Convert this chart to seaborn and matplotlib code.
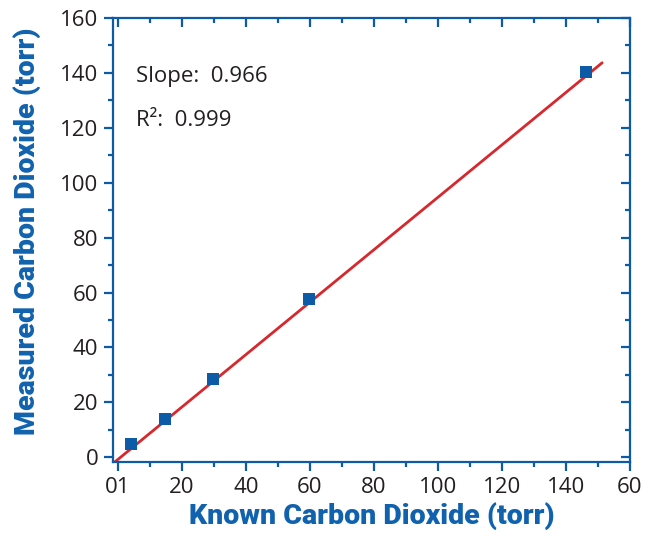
import numpy as np
import pandas as pd
import matplotlib
matplotlib.use("Agg")
import matplotlib.pyplot as plt
import seaborn as sns
from matplotlib.ticker import MultipleLocator, FixedLocator

# ---- data ----
known = [4.2, 14.6, 29.7, 59.7, 146.4]
measured = [4.7, 14.0, 28.4, 57.6, 140.3]
fit_slope = 0.955
fit_intercept = -0.8
fit_x_range = [-1.0, 151.3]
x_tick_values = [0, 20, 40, 60, 80, 100, 120, 140, 160]
x_tick_labels = ["01", "20", "40", "60", "80", "100", "120", "140", "60"]
y_tick_values = [0, 20, 40, 60, 80, 100, 120, 140, 160]
slope_text = "Slope:  0.966"
r2_text = "R\u00b2:  0.999"
x_label = "Known Carbon Dioxide (torr)"
y_label = "Measured Carbon Dioxide (torr)"

sns.set_style("ticks")
plt.rcParams['font.family'] = ['Open Sans', 'DejaVu Sans']

BLUE = "#0d5aa7"
LABEL_BLUE = "#1162ae"
RED = "#d7282e"
TXT = "#231f20"

df = pd.DataFrame({"known": known, "measured": measured})
fit_df = pd.DataFrame({"x": fit_x_range,
                       "y": [fit_slope * v + fit_intercept for v in fit_x_range]})

fig = plt.figure(figsize=(6.48, 5.33), dpi=100)
ax = fig.add_axes([113/648, 1-462/533, (630-113)/648, (462-18)/533])

sns.lineplot(data=fit_df, x="x", y="y", ax=ax, color=RED, lw=2.0, zorder=2)
sns.scatterplot(data=df, x="known", y="measured", ax=ax, marker="s", s=66,
                color=BLUE, edgecolor=BLUE, linewidth=0, zorder=3)

ax.set_xlim(-1.5, 160)
ax.set_ylim(-1.7, 160)

ax.xaxis.set_major_locator(FixedLocator(x_tick_values))
ax.set_xticklabels(x_tick_labels)
ax.xaxis.set_minor_locator(MultipleLocator(10))
ax.yaxis.set_major_locator(FixedLocator(y_tick_values))
ax.yaxis.set_minor_locator(MultipleLocator(10))

for sp in ax.spines.values():
    sp.set_visible(True)
    sp.set_color(BLUE)
    sp.set_linewidth(1.6)

ax.tick_params(which="both", direction="out", color=BLUE, width=1.6,
               top=False, right=False)
ax.tick_params(which="major", length=6.5, labelsize=16, labelcolor=TXT, pad=4)
ax.tick_params(which="minor", length=3.8)

# mirrored inward ticks on top/right
ax2 = ax.secondary_xaxis("top")
ax2.xaxis.set_major_locator(FixedLocator(x_tick_values))
ax2.xaxis.set_minor_locator(MultipleLocator(10))
ax2.tick_params(which="both", direction="in", color=BLUE, width=1.6, labeltop=False)
ax2.tick_params(which="major", length=6.5)
ax2.tick_params(which="minor", length=3.8)
ax2.spines["top"].set_visible(False)
ax3 = ax.secondary_yaxis("right")
ax3.yaxis.set_major_locator(FixedLocator(y_tick_values))
ax3.yaxis.set_minor_locator(MultipleLocator(10))
ax3.tick_params(which="both", direction="in", color=BLUE, width=1.6, labelright=False)
ax3.tick_params(which="major", length=6.5)
ax3.tick_params(which="minor", length=3.8)
ax3.spines["right"].set_visible(False)

ax.set_xlabel(x_label, family=["Roboto", "DejaVu Sans"], fontweight=900,
              fontsize=20.5, color=LABEL_BLUE, labelpad=3)
ax.set_ylabel(y_label, family=["Roboto", "DejaVu Sans"], fontweight=900,
              fontsize=20.5, color=LABEL_BLUE)
ax.yaxis.set_label_coords(-0.139, 0.52)

ax.text(5.8, 138.8, slope_text, fontsize=16, color=TXT, va="center", ha="left")
ax.text(5.8, 122.7, r2_text, fontsize=16, color=TXT, va="center", ha="left")

fig.savefig("out.png", dpi=100)
